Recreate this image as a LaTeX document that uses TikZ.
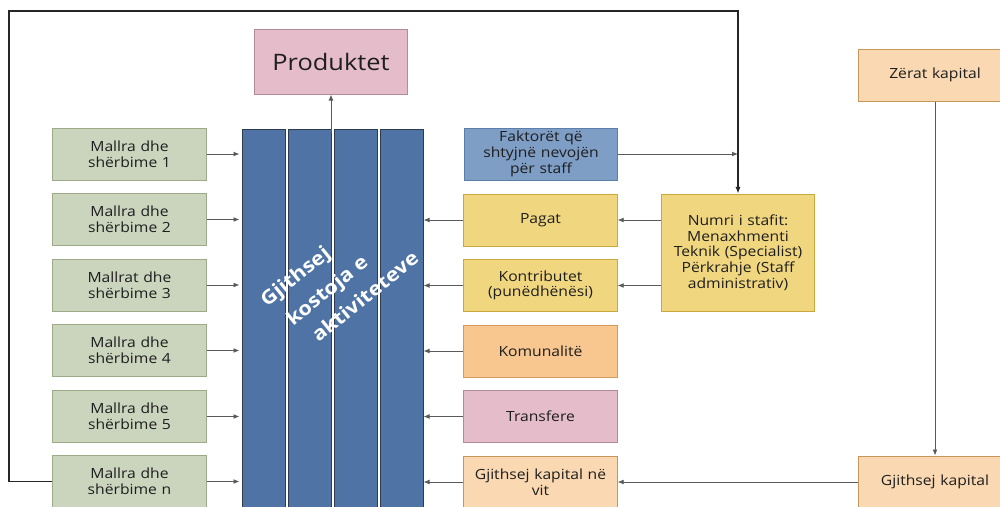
\documentclass[tikz,border=0pt]{standalone}
\usepackage{fontspec}
\setmainfont{Open Sans}[FakeStretch=1.12]
\usetikzlibrary{arrows.meta,positioning}
\definecolor{txtc}{HTML}{1E1E1E}
\definecolor{greenfill}{HTML}{CBD5BE}
\definecolor{greenline}{HTML}{9CAA88}
\definecolor{pinkfill}{HTML}{E5BDCA}
\definecolor{pinkline}{HTML}{B48A9B}
\definecolor{colfill}{HTML}{4E73A4}
\definecolor{colline}{HTML}{2F3C50}
\definecolor{bluefill}{HTML}{7F9EC6}
\definecolor{blueline}{HTML}{5C7EAC}
\definecolor{yellowfill}{HTML}{F0D77F}
\definecolor{yellowline}{HTML}{C9A93E}
\definecolor{orangefill}{HTML}{F7C78F}
\definecolor{orangeline}{HTML}{D39A5B}
\definecolor{peachfill}{HTML}{FAD9B2}
\definecolor{peachline}{HTML}{C8955A}
\definecolor{arrc}{HTML}{5A5A5A}
\tikzset{
  box/.style={draw, line width=0.75pt, minimum width=115pt, minimum height=39pt,
    text width=112pt, align=center, inner sep=1pt, text=txtc,
    font=\fontsize{10.5}{11.75}\selectfont},
  greenbox/.style={box, fill=greenfill, draw=greenline},
  pinkbox/.style={box, fill=pinkfill, draw=pinkline},
  bluebox/.style={box, fill=bluefill, draw=blueline},
  yellowbox/.style={box, fill=yellowfill, draw=yellowline},
  orangebox/.style={box, fill=orangefill, draw=orangeline},
  peachbox/.style={box, fill=peachfill, draw=peachline},
  col/.style={draw=colline, fill=colfill, line width=0.75pt, minimum width=32.25pt,
    minimum height=300.75pt, inner sep=0pt},
  titletext/.style={rotate=39, text=white, inner sep=0pt, anchor=base west,
    font=\bfseries\fontsize{14.5}{17}\selectfont},
  arr/.style={draw=arrc, line width=0.6pt, -{Latex[length=4.5pt,width=3.6pt]}},
  loopline/.style={draw=black!85, line width=0.9pt, -{Latex[length=5pt,width=4pt]}},
}
\begin{document}
\begin{tikzpicture}[x=0.75pt,y=-0.75pt]
        \useasboundingbox (0,0) rectangle (1000,507);
        \clip (0,0) rectangle (1000,507);
        % 绘制中间的列
        \foreach \i/\x in {1/263.5,2/309.5,3/355.5,4/401.5}
          \node[col] (c\i) at (\x,329.5) {};
        \foreach \t/\x/\y [count=\k] in {Gjithsej/267/308,kostoja e/293/326.5,aktiviteteve/318.5/343}
          \node[titletext] (title\k) at (\x,\y) {\t};
        % 产品
        \node[pinkbox, minimum height=48.75pt, font=\fontsize{17}{19}\selectfont] (prod) at (331,61.5) {Produktet};
        \draw[arr, shorten <=-3pt] (prod.south |- c2.north) -- (prod.south);
        % 左侧的框
        \foreach \i/\y/\t in {1/154/{Mallra dhe\\shërbime 1},2/219.5/{Mallra dhe\\shërbime 2},
            3/285/{Mallrat dhe\\shërbime 3},4/350.5/{Mallra dhe\\shërbime 4},
            5/416.5/{Mallra dhe\\shërbime 5},6/481.5/{Mallra dhe\\shërbime n}}
        {
          \node[greenbox] (g\i) at (129.5,\y) {\t};
          \draw[arr, shorten >=1.5pt] (g\i.east) -- (g\i.east -| c1.west);
        }
        % 右侧的框
        \node[bluebox] (fakt) at (541,154) {Faktorët që\\shtyjnë nevojën\\për staff};
        \node[yellowbox] (pagat) at (540.5,220) {Pagat};
        \node[yellowbox] (kontr) at (540.5,285.5) {Kontributet\\(punëdhënësi)};
        \node[orangebox] (komun) at (540.5,351) {Komunalitë};
        \node[pinkbox] (transf) at (540.5,416.5) {Transfere};
        \node[peachbox] (kapvit) at (540.5,482) {Gjithsej kapital në\\vit};
        \foreach \n in {pagat,kontr,komun,transf,kapvit}
          \draw[arr] (\n.west) -- (\n.west -| c4.east);
        % 员工人数
        \node[yellowbox, minimum height=87.75pt] (numri) at (738,252.5)
          {Numri i stafit:\\Menaxhmenti\\Teknik (Specialist)\\Përkrahje (Staff\\administrativ)};
        \draw[arr] (numri.west |- pagat.east) -- (pagat.east);
        \draw[arr] (numri.west |- kontr.east) -- (kontr.east);
        \draw[arr] (fakt.east) -- (fakt.east -| numri.north);
        % 外部回路
        \coordinate (corner) at (9,11);
        \draw[loopline] (g6.west) -| (corner) -| (numri.north);
        % 资本
        \node[peachbox] (zerat) at (935,75) {Zërat kapital};
        \node[peachbox] (gjkap) at (935,482) {Gjithsej kapital};
        \draw[arr] (zerat) -- (gjkap);
        \draw[arr] (gjkap) -- (kapvit);
      \end{tikzpicture}
\end{document}
